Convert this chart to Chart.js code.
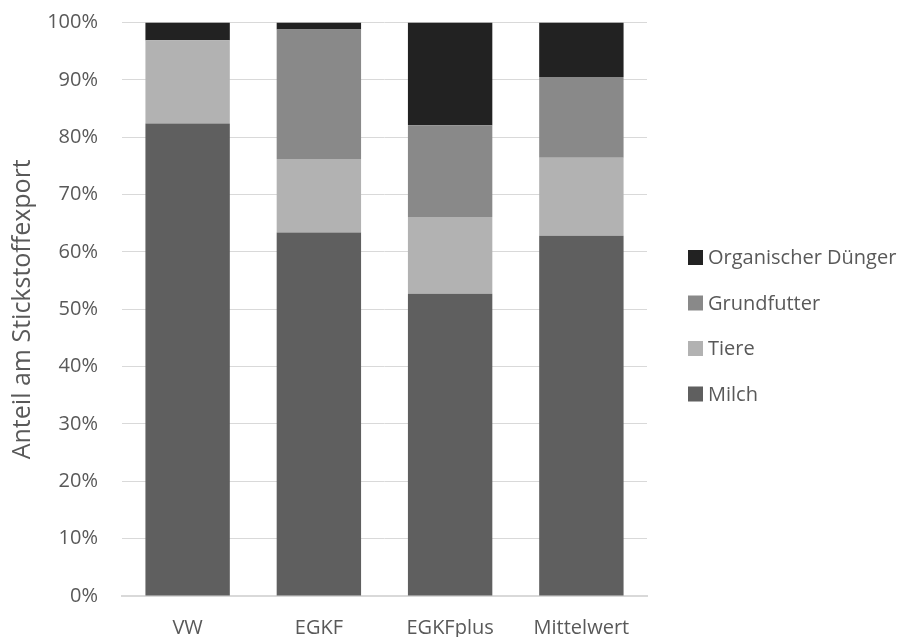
<!DOCTYPE html>
<html>
<head>
<meta charset="utf-8">
<script src="https://cdn.jsdelivr.net/npm/chart.js@4"></script>
<style>
  html, body { margin: 0; padding: 0; background: #ffffff; }
  #wrap { width: 905px; height: 637px; position: relative; }
</style>
</head>
<body>
<div id="wrap"><canvas id="c" width="905" height="637"></canvas></div>
<script>
// Share of nitrogen export (%) per farm group
const categories = ['VW', 'EGKF', 'EGKFplus', 'Mittelwert'];
const milch = [82.4, 63.4, 52.7, 62.8];
const tiere = [14.5, 12.8, 13.4, 13.6];
const grundfutter = [0.0, 22.6, 16.0, 14.1];
const organischerDuenger = [3.1, 1.2, 17.9, 9.5];
const yTicks = [0, 10, 20, 30, 40, 50, 60, 70, 80, 90, 100];

const FONT = '"Open Sans", "Noto Sans", sans-serif';
const TEXT = '#595959';

const ds = (label, data, color) => ({
  label, data,
  backgroundColor: color,
  borderWidth: 0,
  categoryPercentage: 1.0,
  barPercentage: 0.643
});

// Legend to the right of the plot, top entry = top segment of the stack
const sideLegend = {
  id: 'sideLegend',
  afterDraw(chart) {
    const { ctx, chartArea } = chart;
    const items = chart.data.datasets.slice().reverse();
    const box = 15, step = 45.5;
    const x = chartArea.right + 41;
    const mid = (chartArea.top + chartArea.bottom) / 2 + 16.5;
    ctx.save();
    ctx.font = '20px ' + FONT;
    ctx.textBaseline = 'middle';
    ctx.textAlign = 'left';
    items.forEach((d, i) => {
      const cy = mid + (i - (items.length - 1) / 2) * step;
      ctx.fillStyle = d.backgroundColor;
      ctx.fillRect(x, cy - box / 2, box, box);
      ctx.fillStyle = TEXT;
      ctx.fillText(d.label, x + box + 5, cy + 1);
    });
    ctx.restore();
  }
};

function draw() {
  new Chart(document.getElementById('c'), {
    type: 'bar',
    data: {
      labels: categories,
      datasets: [
        ds('Milch', milch, '#5f5f5f'),
        ds('Tiere', tiere, '#b2b2b2'),
        ds('Grundfutter', grundfutter, '#898989'),
        ds('Organischer Dünger', organischerDuenger, '#222222')
      ]
    },
    plugins: [sideLegend],
    options: {
      responsive: false,
      animation: false,
      events: [],
      layout: { padding: { top: 22.5, left: 4, right: 258, bottom: 0 } },
      plugins: {
        tooltip: { enabled: false },
        legend: { display: false }
      },
      scales: {
        x: {
          stacked: true,
          grid: { display: false, drawTicks: false },
          border: { display: true, color: '#d9d9d9', width: 2 },
          ticks: { color: TEXT, padding: 20, font: { family: FONT, size: 20 } },
          afterFit: s => { s.height = 41; }
        },
        y: {
          stacked: true,
          min: 0,
          max: 100,
          afterBuildTicks: s => { s.ticks = yTicks.map(v => ({ value: v })); },
          grid: { color: '#d9d9d9', lineWidth: 1, drawTicks: false },
          border: { display: false },
          ticks: {
            color: TEXT,
            padding: 24,
            font: { family: FONT, size: 20 },
            callback: v => v + '%'
          },
          title: {
            display: true,
            text: 'Anteil am Stickstoffexport',
            color: TEXT,
            font: { family: FONT, size: 25 },
            padding: { top: 4, bottom: 4 }
          },
          afterFit: s => { s.width = 118; s.paddingTop = 0; s.paddingBottom = 0; }
        }
      }
    }
  });
}

Promise.all([
  document.fonts.load('20px "Open Sans"'),
  document.fonts.load('25px "Open Sans"')
]).then(draw, draw);
</script>
</body>
</html>
